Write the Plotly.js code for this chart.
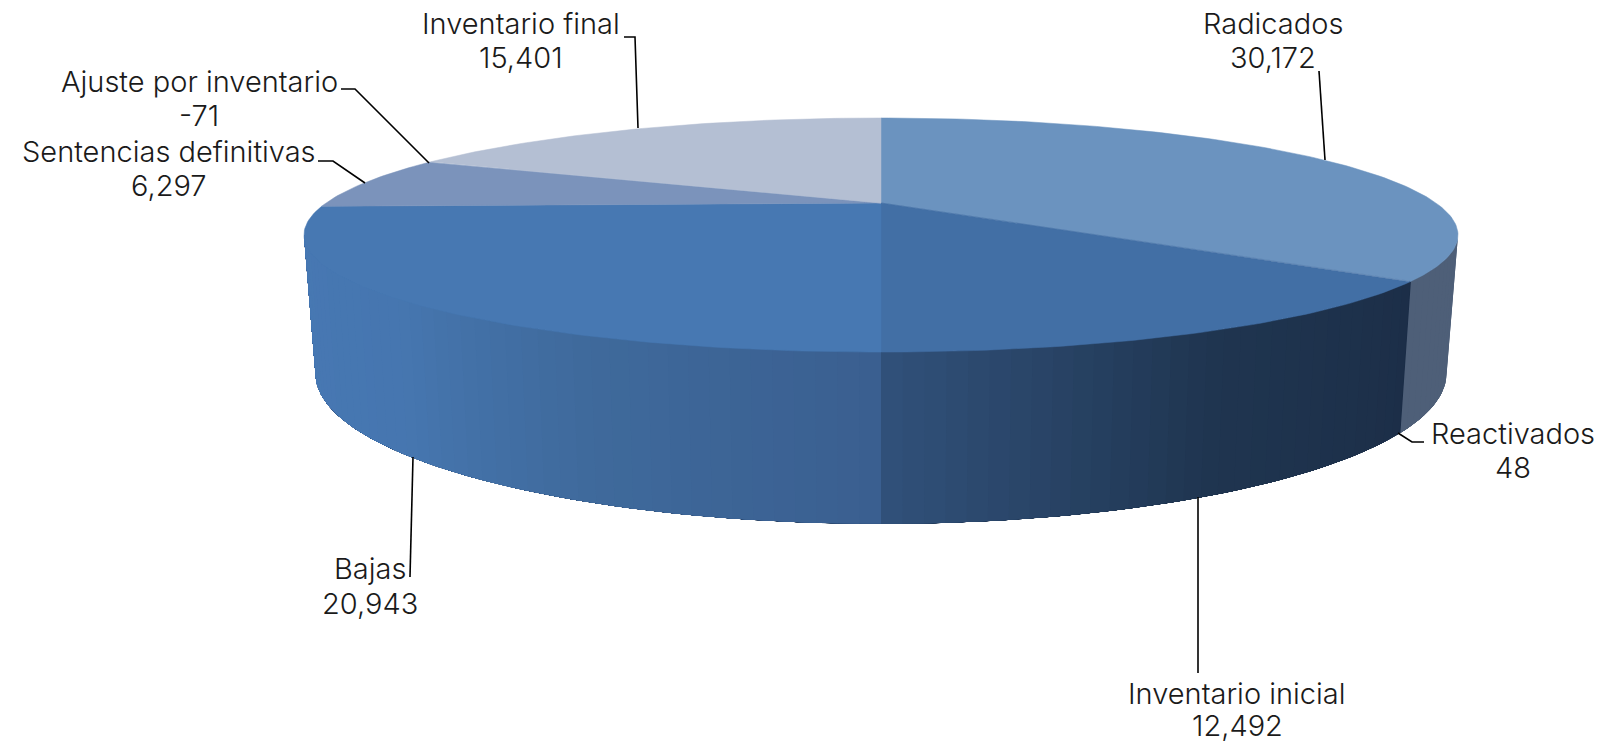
<!DOCTYPE html>
<html><head><meta charset="utf-8">
<script src="https://cdn.plot.ly/plotly-3.0.1.min.js"></script>
<style>html,body{margin:0;padding:0;background:#fff}</style></head>
<body><div id="chart" style="width:1612px;height:744px"></div>
<script>
const categories = ["Radicados","Reactivados","Inventario inicial","Bajas","Sentencias definitivas","Ajuste por inventario","Inventario final"];
const values = [30172,48,12492,20943,6297,-71,15401];
const topColors = ["#6b93bf","#5f86b5","#426fa5","#4778b2","#7b93bb","#8fa5c6","#b4bfd3"];
// side shading stops: [sweep fraction across visible band, colour]
const sideStops = [[0,"#4e5f78"],[0.1418,"#4e5f78"],[0.1419,"#1c2e48"],[0.32,"#1f3550"],[0.5,"#31517a"],[0.5001,"#3a5f90"],[0.66,"#3f6a9c"],[0.8,"#4676b0"],[1,"#4778b3"]];
const labelX = [1273,1513,1237,370,168.5,199,521];
const nameY = [23,433,693,568,151,81,23];
const valueY = [57,467,725,603,185,115,57];
const leaders = [
 [[1319,71],[1325,160]],
 [[1424,442],[1412,442],[1398,433]],
 [[1198,497],[1198,673]],
 [[413,457],[410,577]],
 [[318,161],[333,161],[365,183]],
 [[341,89],[355,89],[429,163]],
 [[624,37],[635,37],[638,128]]
];
const CX=881, CY=203, A=555, B=108.3, K=0.2736, CY2=332, A2=544, B2=139.3;
const rad=d=>d*Math.PI/180;
function topRim(th){const s=Math.sin(rad(th)),c=Math.cos(rad(th)),d=1+K*c;return [CX+A*s/d,CY-B*c/d];}
function lowRim(th){const s=Math.sin(rad(th)),c=Math.cos(rad(th)),d=1+K*c;return [CX+A2*s/d,CY2-B2*c/d];}
const total=values.reduce((a,v)=>a+Math.abs(v),0);
const hex=h=>[1,3,5].map(i=>parseInt(h.substr(i,2),16));
function shade(f){
  for(let i=1;i<sideStops.length;i++){
    if(f<=sideStops[i][0]){
      const [f0,c0]=sideStops[i-1],[f1,c1]=sideStops[i];
      const t=(f-f0)/(f1-f0),a=hex(c0),b=hex(c1);
      return "rgb("+a.map((v,j)=>Math.round(v+(b[j]-v)*t)).join(",")+")";
    }
  }
  return sideStops[sideStops.length-1][1];
}
const traces=[];
// side band, painted in order: each strip runs on to the far end and the next one covers it
const S0=105.9,S1=254.1,N=90;
const seams=[];let acc0=0;values.forEach(v=>{acc0+=Math.abs(v);seams.push(acc0/total*360);});
const edges=[];for(let i=0;i<=N;i++)edges.push(S0+(S1-S0)*i/N);
seams.forEach(s=>{if(s>S0&&s<S1)edges.push(s);});
edges.sort((a,b)=>a-b);
for(let i=0;i<edges.length-1;i++){
  const a=edges[i],b=edges[i+1];if(b-a<1e-6)continue;
  const col=shade(((a+b)/2-S0)/(S1-S0));
  const xs=[],ys=[],n=Math.max(2,Math.ceil(S1-a));
  for(let j=0;j<=n;j++){const p=topRim(a+(S1-a)*j/n);xs.push(p[0]);ys.push(p[1]);}
  for(let j=n;j>=0;j--){const p=lowRim(a+(S1-a)*j/n);xs.push(p[0]);ys.push(p[1]);}
  traces.push({type:"scatter",mode:"lines",x:xs,y:ys,fill:"toself",fillcolor:col,line:{width:0},hoverinfo:"skip",showlegend:false});
}
// top wedges
let acc=0;
values.forEach((v,i)=>{
  const a=acc/total*360;acc+=Math.abs(v);const b=acc/total*360;
  const xs=[CX],ys=[CY],n=Math.max(2,Math.ceil((b-a)));
  for(let j=0;j<=n;j++){const p=topRim(a+(b-a)*j/n);xs.push(p[0]);ys.push(p[1]);}
  xs.push(CX);ys.push(CY);
  traces.push({type:"scatter",mode:"lines",name:categories[i],x:xs,y:ys,fill:"toself",fillcolor:topColors[i],line:{color:topColors[i],width:0.5},text:categories[i],hoverinfo:"text",showlegend:false});
});
// leader lines
leaders.forEach(l=>traces.push({type:"scatter",mode:"lines",x:l.map(p=>p[0]),y:l.map(p=>p[1]),line:{color:"#000",width:1.6},hoverinfo:"skip",showlegend:false}));
const font={family:"Inter, sans-serif",size:29,weight:300,color:"#1a1a1a"};
const note=(x,y,text)=>({xref:"x",yref:"y",x,y,xanchor:"center",yanchor:"middle",align:"center",showarrow:false,text,font});
const annotations=[];
categories.forEach((c,i)=>{
  annotations.push(note(labelX[i],nameY[i],c));
  annotations.push(note(labelX[i],valueY[i],values[i].toLocaleString("en-US")));
});
Plotly.newPlot("chart",traces,{width:1612,height:744,margin:{l:0,r:0,t:0,b:0,pad:0},paper_bgcolor:"#fff",plot_bgcolor:"#fff",showlegend:false,
 xaxis:{range:[0,1612],visible:false,fixedrange:true},yaxis:{range:[744,0],visible:false,fixedrange:true},annotations},{displayModeBar:false,staticPlot:true});
</script></body></html>
